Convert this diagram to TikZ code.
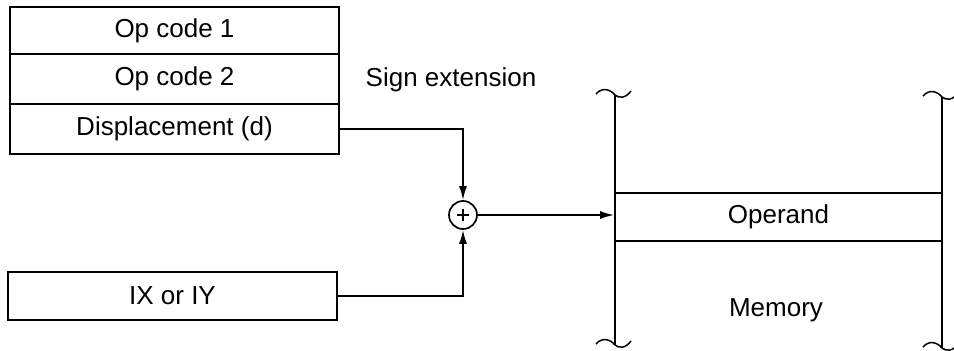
\documentclass[tikz,border=0pt]{standalone}
\usepackage{fontspec}
\setmainfont{Liberation Sans}
\usetikzlibrary{arrows.meta}
\begin{document}
\begin{tikzpicture}[x=1pt,y=-1pt, line width=1.7pt,
  font=\fontsize{26}{31}\selectfont,
  field/.style={draw, minimum width=329pt, inner sep=0pt, anchor=center},
  arr/.style={-{Latex[length=14pt,width=8pt]}},
  brk/.pic={\draw[line width=1.5pt] (-19,-1) .. controls (-13,-8) and (-5,-6) .. (0,0) .. controls (4,3) and (10,4) .. (16,-4);},
  lbl/.style={inner sep=0pt}]
\useasboundingbox (0,0) rectangle (954,351);

% instruction fields
\node[field, minimum height=47pt] (op1) at (174.5,30.5) {Op code 1};
\node[field, minimum height=50pt] (op2) at (174.5,79) {Op code 2};
\node[field, minimum height=50pt] (disp) at (174.5,129) {Displacement (d)};
\node[field, minimum height=48pt] (ix) at (172.5,296) {IX or IY};

\node[lbl] (sign) at (451,80) {Sign extension};

% adder
\node[circle, draw, minimum size=28pt, inner sep=0pt] (sum) at (463,215) {};
\draw[line width=1.9pt] ([xshift=-6pt]sum.center) -- ([xshift=6pt]sum.center)
  ([yshift=-6pt]sum.center) -- ([yshift=6pt]sum.center);

% memory
\coordinate (mlt) at (615,95);
\coordinate (mlb) at (615,345);
\coordinate (mrt) at (942,97);
\coordinate (mrb) at (942,348);
\draw (mlt) -- (mlb);
\draw (mrt) -- (mrb);
\pic at (mlt) {brk};
\pic at (mrt) {brk};
\pic at (mlb) {brk};
\pic at (mrb) {brk};
\node[draw, minimum width=327pt, minimum height=48pt, inner sep=0pt] (operand) at (778.5,217) {Operand};
\node[lbl] (memory) at (776,310) {Memory};

% connectors
\draw[arr] (disp.east) -| (sum.north);
\draw[arr] (ix.east) -| (sum.south);
\draw[arr] (sum.east) -- (sum.east -| operand.west);
\end{tikzpicture}
\end{document}
